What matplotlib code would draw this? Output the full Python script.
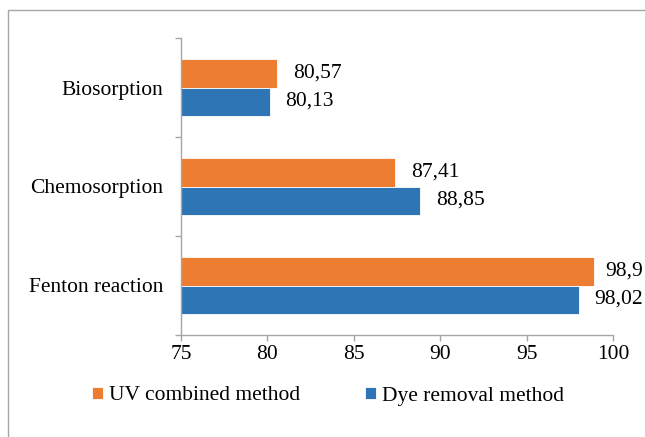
import matplotlib
matplotlib.use("Agg")
import matplotlib.pyplot as plt
from matplotlib.patches import Rectangle
import numpy as np

plt.rcParams["font.family"] = ["Liberation Serif", "DejaVu Serif"]

categories = ["Fenton reaction", "Chemosorption", "Biosorption"]
dye_removal = [98.02, 88.85, 80.13]
uv_combined = [98.9, 87.41, 80.57]
x_ticks = [75, 80, 85, 90, 95, 100]

blue = "#2E75B6"
orange = "#ED7D31"
axis_grey = "#A6A6A6"
fs = 15.5

fig = plt.figure(figsize=(6.45, 4.37), dpi=100)
ax = fig.add_axes([181 / 645, 1 - 335 / 437, 432 / 645, 297 / 437])

y = np.arange(len(categories))
h = 0.283

b_uv = ax.barh(y + h / 2, uv_combined, height=h, color=orange, edgecolor="white",
               linewidth=0.6, label="UV combined method")
b_dye = ax.barh(y - h / 2, dye_removal, height=h, color=blue, edgecolor="white",
                linewidth=0.6, label="Dye removal method")

labels = []
for bars, vals in [(b_uv, uv_combined), (b_dye, dye_removal)]:
    for bar, v in zip(bars, vals):
        t = ax.annotate(str(v).replace(".", ","), (v, bar.get_y() + bar.get_height() / 2),
                        xytext=(11.5, 0), textcoords="offset points",
                        va="center", ha="left", fontsize=fs, clip_on=False)
        labels.append(t)

ax.set_xlim(75, 100)
ax.set_ylim(-0.5, len(categories) - 0.5)
ax.set_xticks(x_ticks)
ax.set_xticklabels([str(t) for t in x_ticks], fontsize=fs)
ax.set_yticks(y)
ax.set_yticklabels(categories, fontsize=fs)
ax.set_yticks(np.arange(-0.5, len(categories)), minor=True)

ax.tick_params(axis="y", which="major", length=0, pad=13)
ax.tick_params(axis="y", which="minor", length=4.5, color=axis_grey, width=1)
ax.tick_params(axis="x", length=4.5, color=axis_grey, width=1, pad=3)

for s in ["top", "right"]:
    ax.spines[s].set_visible(False)
for s in ["left", "bottom"]:
    ax.spines[s].set_color(axis_grey)
    ax.spines[s].set_linewidth(1)

ax.legend(handles=[b_uv, b_dye], loc="center", bbox_to_anchor=(328 / 645, (437 - 396) / 437),
          bbox_transform=fig.transFigure, ncol=2, frameon=False, fontsize=fs,
          handlelength=0.5, handleheight=0.5, handletextpad=0.25, columnspacing=3.05)

fig.patches.append(Rectangle((8 / 645, -0.1), 1.2, 1 - 10 / 437 + 0.1, fill=False,
                             edgecolor=axis_grey, linewidth=1, transform=fig.transFigure))

# pull labels in like Excel does when they would run off the chart
fig.canvas.draw()
renderer = fig.canvas.get_renderer()
limit = fig.bbox.width - 2
for t in labels:
    over = t.get_window_extent(renderer).x1 - limit
    if over > 0:
        t.xyann = (t.xyann[0] - over * 72 / fig.dpi, 0)

fig.savefig("out.png", dpi=100)
